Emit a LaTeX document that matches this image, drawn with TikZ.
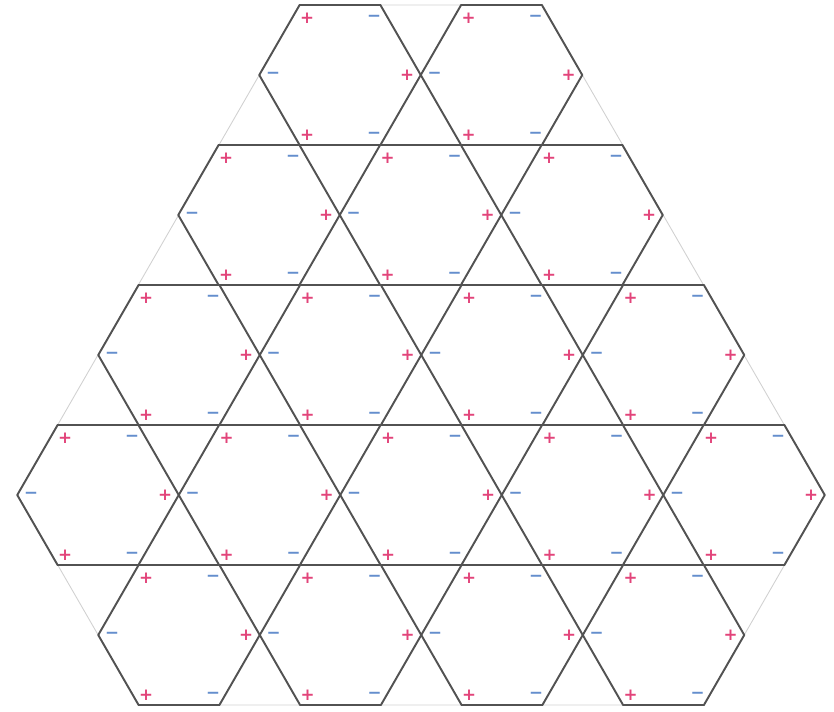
\documentclass[tikz,border=0pt]{standalone}
\usepackage{xcolor}
\usepackage{fontspec}
\newfontfamily\markfont{DejaVu Sans}[BoldFont={DejaVu Sans Bold}]
\usetikzlibrary{positioning, calc}

\definecolor{pluspink}{RGB}{226,68,122}
\definecolor{minusblue}{RGB}{100,142,205}

\tikzset{
  hexline/.style={draw=black!68, line width=1.1pt, line join=round},
  guideline/.style={draw=black!18, line width=0.5pt},
  plusmark/.style={text=pluspink, inner sep=0pt, font=\markfont\fontsize{9.5}{9.5}\selectfont\bfseries},
  minusmark/.style={text=minusblue, inner sep=0pt, font=\markfont\fontsize{9.5}{9.5}\selectfont\bfseries}
}

\begin{document}
\begin{tikzpicture}[x=0.02cm, y=-0.02cm]
\useasboundingbox (0,0) rectangle (834,711);

% outer guide lines
\coordinate (topL) at (299.6,5);
\coordinate (topR) at (541.9,5);
\coordinate (midL) at (17.3,495);
\coordinate (midR) at (824.8,495);
\coordinate (botL) at (138.6,705);
\coordinate (botR) at (703.9,705);
\draw[guideline] (topL) -- (topR) -- (midR) -- (botR) -- (botL) -- (midL) -- cycle;

% hexagons, row by row
\foreach \r/\cy/\first/\n in {1/75/340/2, 2/215/259/3, 3/355/179/4, 4/495/98/5, 5/635/179/4} {
  \foreach \k in {1,...,\n} {
    \pgfmathsetmacro\cx{\first+(\k-1)*161.5}
    \draw[hexline] ({\cx-80.75},\cy) -- ({\cx-40.4},{\cy-70}) -- ({\cx+40.4},{\cy-70})
      -- ({\cx+80.75},\cy) -- ({\cx+40.4},{\cy+70}) -- ({\cx-40.4},{\cy+70}) -- cycle;
    % charges at the corners
    \node[plusmark]  (tl\r\k) at ({\cx-33},{\cy-57}) {+};
    \node[minusmark] (tr\r\k) at ({\cx+34},{\cy-57}) {−};
    \node[minusmark] (ml\r\k) at ({\cx-67},\cy) {−};
    \node[plusmark]  (mr\r\k) at ({\cx+67},\cy) {+};
    \node[plusmark]  (bl\r\k) at ({\cx-33},{\cy+60}) {+};
    \node[minusmark] (br\r\k) at ({\cx+34},{\cy+60}) {−};
  }
}
\end{tikzpicture}
\end{document}
